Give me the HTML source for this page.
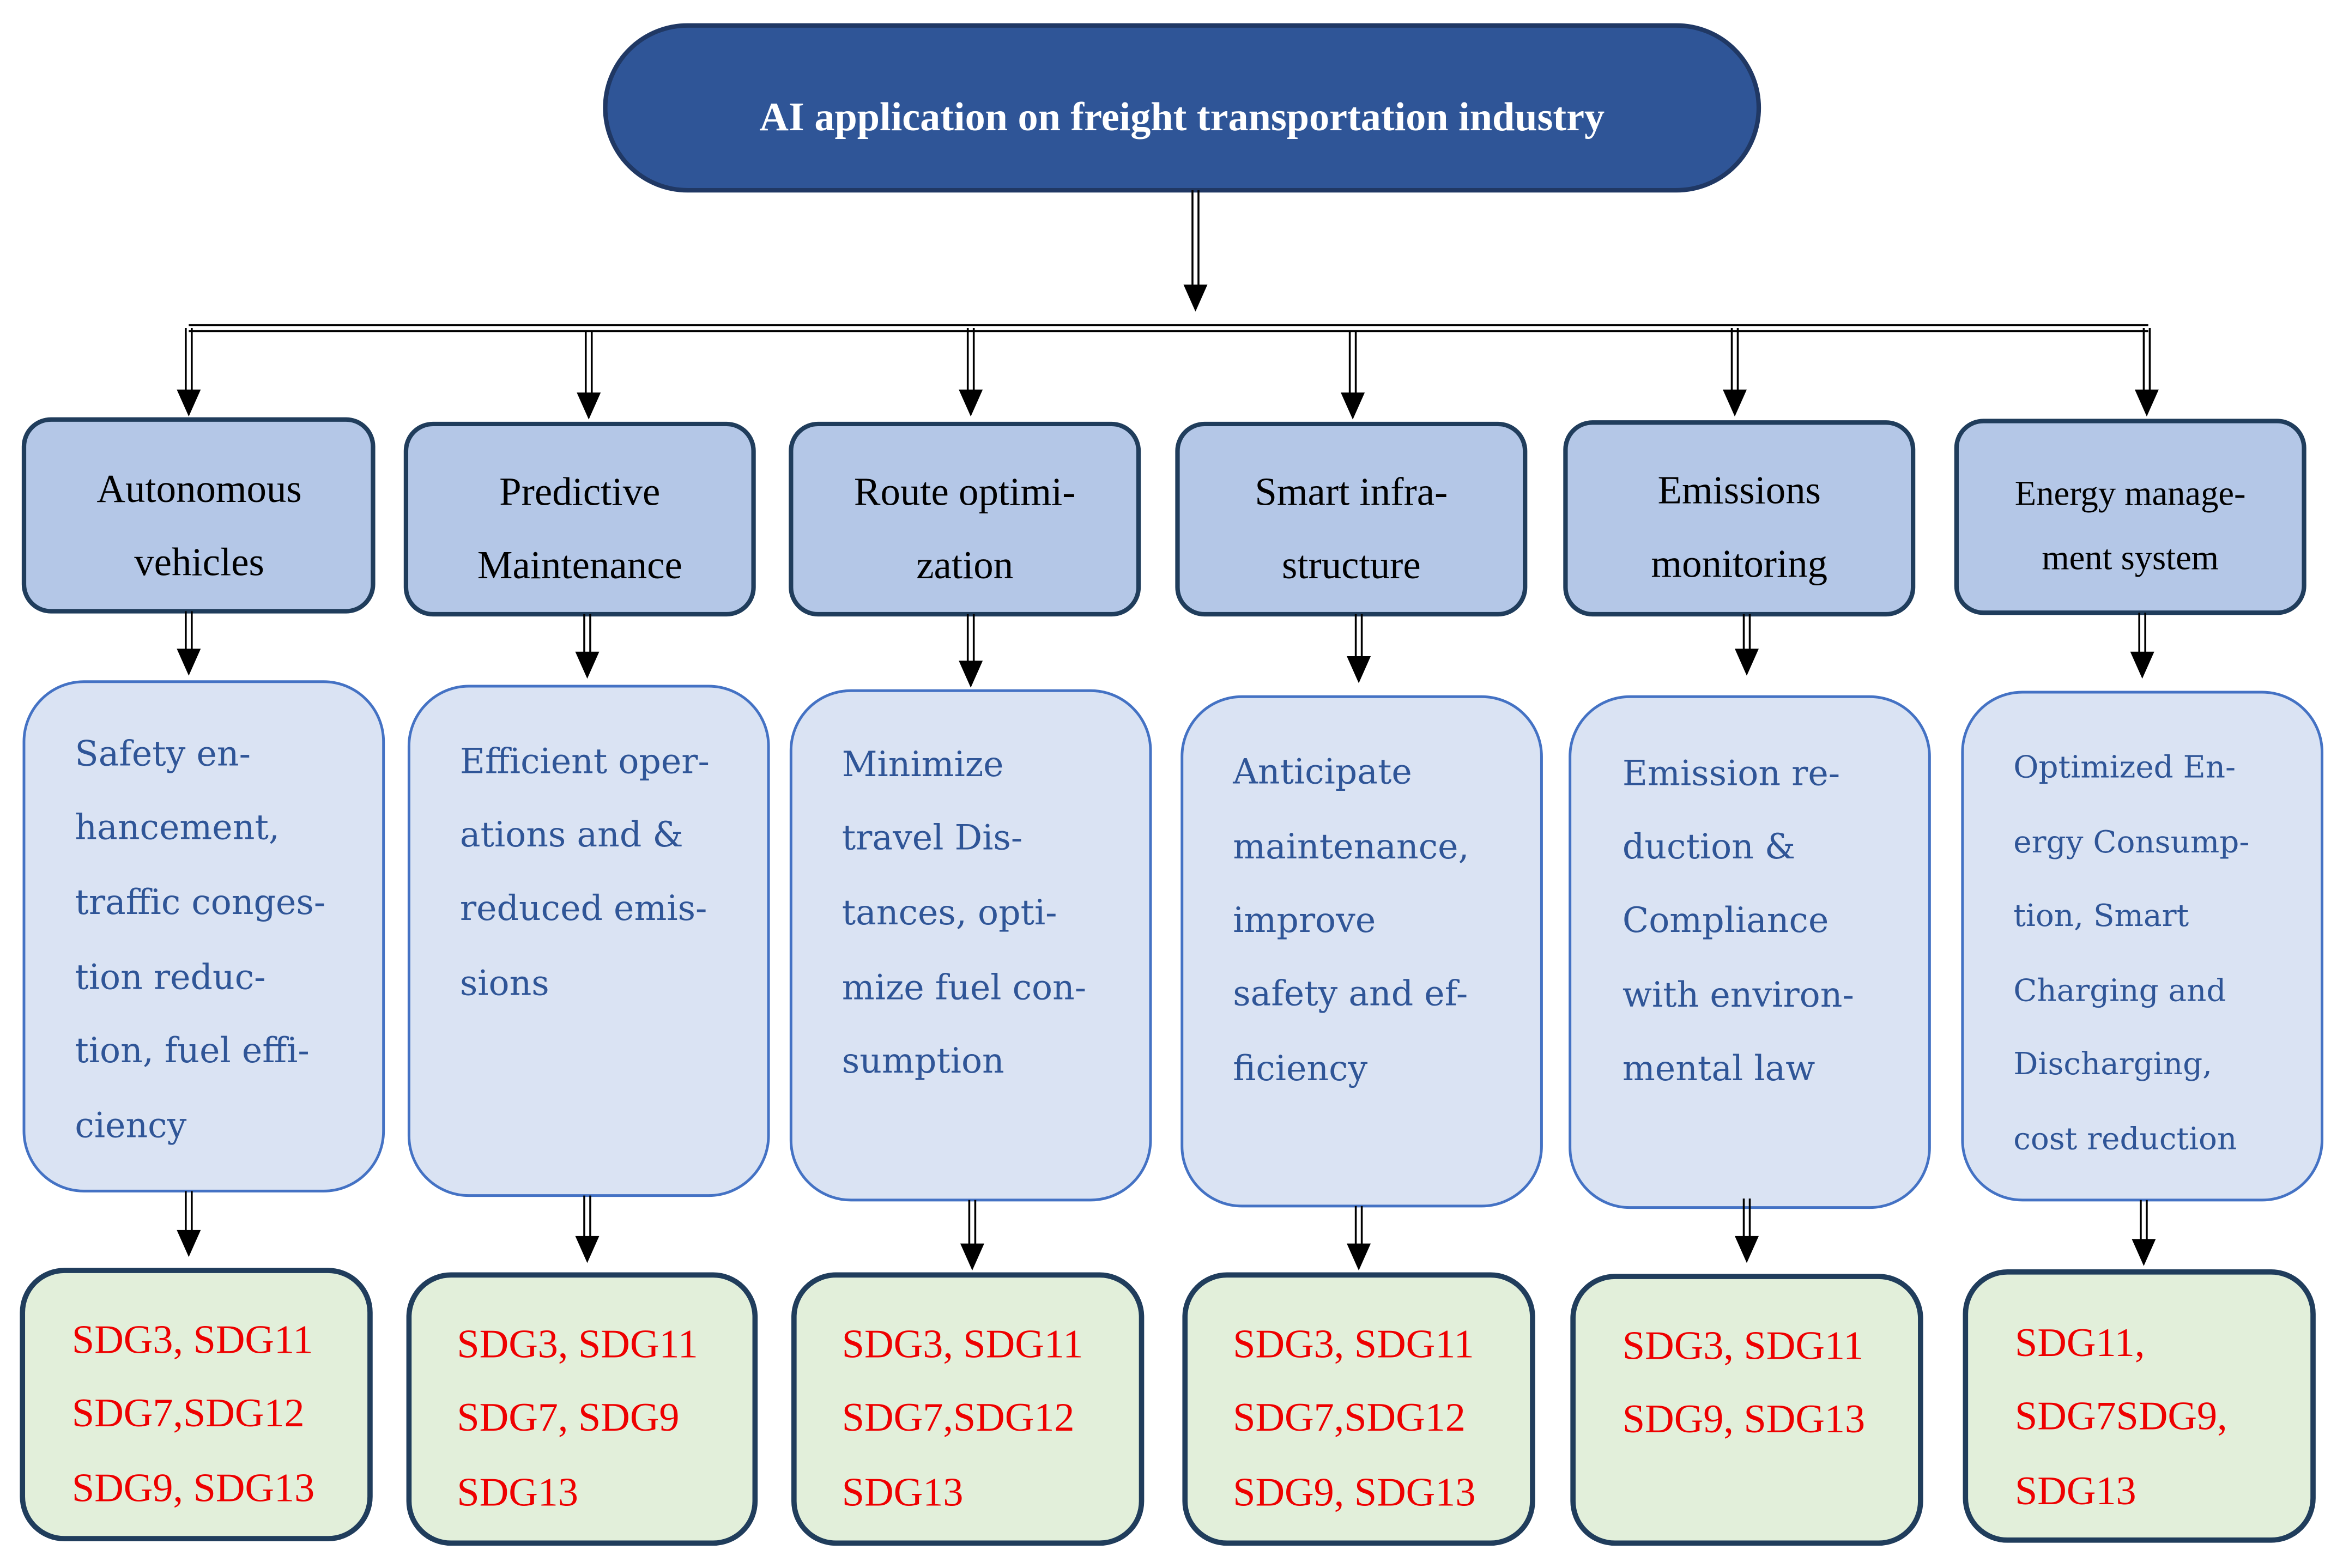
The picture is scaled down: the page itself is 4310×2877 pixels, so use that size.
<!DOCTYPE html>
<html><head><meta charset="utf-8"><style>html,body{margin:0;padding:0;background:#fff}svg{display:block}</style></head><body>
<svg width="4310" height="2877" viewBox="0 0 1568 1046.6" preserveAspectRatio="none" xmlns="http://www.w3.org/2000/svg">
<g font-family="'Liberation Serif', serif">
<rect x="404" y="17" width="770" height="110" rx="55" fill="#2f5597" stroke="#203864" stroke-width="3"/>
<text x="789" y="87" text-anchor="middle" fill="#fff" font-weight="bold" font-size="27">AI application on freight transportation industry</text>
<g stroke="#000" stroke-width="1.3" fill="none">
<line x1="796" y1="127" x2="796" y2="192"/><line x1="800" y1="127" x2="800" y2="192"/>
<line x1="126" y1="217" x2="1434" y2="217"/><line x1="126" y1="221" x2="1434" y2="221"/>
</g>
<polygon points="790,190 806,190 798,208" fill="#000"/>
<g stroke="#000" stroke-width="1.3">
<line x1="124" y1="219" x2="124" y2="262"/><line x1="128" y1="219" x2="128" y2="262"/>
<line x1="391" y1="221" x2="391" y2="264"/><line x1="395" y1="221" x2="395" y2="264"/>
<line x1="646" y1="219" x2="646" y2="262"/><line x1="650" y1="219" x2="650" y2="262"/>
<line x1="901" y1="221" x2="901" y2="264"/><line x1="905" y1="221" x2="905" y2="264"/>
<line x1="1156" y1="219" x2="1156" y2="262"/><line x1="1160" y1="219" x2="1160" y2="262"/>
<line x1="1431" y1="219" x2="1431" y2="262"/><line x1="1435" y1="219" x2="1435" y2="262"/>
</g>
<g fill="#000">
<polygon points="118,260 134,260 126,278"/>
<polygon points="385,262 401,262 393,280"/>
<polygon points="640,260 656,260 648,278"/>
<polygon points="895,262 911,262 903,280"/>
<polygon points="1150,260 1166,260 1158,278"/>
<polygon points="1425,260 1441,260 1433,278"/>
</g>
<g fill="#b4c7e7" stroke="#203d5c" stroke-width="3">
<rect x="16" y="280" width="233" height="128" rx="18"/>
<rect x="271" y="283" width="232" height="127" rx="18"/>
<rect x="528" y="283" width="232" height="127" rx="18"/>
<rect x="786" y="283" width="232" height="127" rx="18"/>
<rect x="1045" y="282" width="232" height="128" rx="18"/>
<rect x="1306" y="281" width="232" height="128" rx="18"/>
</g>
<g fill="#000" font-size="26.5" text-anchor="middle">
<text x="133" y="335">Autonomous</text><text x="133" y="384">vehicles</text>
<text x="387" y="337">Predictive</text><text x="387" y="386">Maintenance</text>
<text x="644" y="337">Route optimi-</text><text x="644" y="386">zation</text>
<text x="902" y="337">Smart infra-</text><text x="902" y="386">structure</text>
<text x="1161" y="336">Emissions</text><text x="1161" y="385">monitoring</text>
<text x="1422" y="337" font-size="23.5">Energy manage-</text><text x="1422" y="380" font-size="23.5">ment system</text>
</g>
<g stroke="#000" stroke-width="1.3">
<line x1="124" y1="408" x2="124" y2="436"/><line x1="128" y1="408" x2="128" y2="436"/>
<line x1="390" y1="410" x2="390" y2="438"/><line x1="394" y1="410" x2="394" y2="438"/>
<line x1="646" y1="410" x2="646" y2="444"/><line x1="650" y1="410" x2="650" y2="444"/>
<line x1="905" y1="410" x2="905" y2="441"/><line x1="909" y1="410" x2="909" y2="441"/>
<line x1="1164" y1="410" x2="1164" y2="436"/><line x1="1168" y1="410" x2="1168" y2="436"/>
<line x1="1428" y1="409" x2="1428" y2="438"/><line x1="1432" y1="409" x2="1432" y2="438"/>
</g>
<g fill="#000">
<polygon points="118,433 134,433 126,451"/>
<polygon points="384,435 400,435 392,453"/>
<polygon points="640,441 656,441 648,459"/>
<polygon points="899,438 915,438 907,456"/>
<polygon points="1158,433 1174,433 1166,451"/>
<polygon points="1422,435 1438,435 1430,453"/>
</g>
<g fill="#dae3f3" stroke="#4472c4" stroke-width="1.8">
<rect x="16" y="455" width="240" height="340" rx="40"/>
<rect x="273" y="458" width="240" height="340" rx="40"/>
<rect x="528" y="461" width="240" height="340" rx="40"/>
<rect x="789" y="465" width="240" height="340" rx="40"/>
<rect x="1048" y="465" width="240" height="341" rx="40"/>
<rect x="1310" y="462" width="240" height="339" rx="40"/>
</g>
<g fill="#2f5597" font-family="'DejaVu Serif','Liberation Serif',serif" style="font-size:23px">
<text x="50" y="511">Safety en-</text><text x="50" y="560">hancement,</text><text x="50" y="610">traffic conges-</text><text x="50" y="660">tion reduc-</text><text x="50" y="709">tion, fuel effi-</text><text x="50" y="759">ciency</text>
<text x="307" y="516">Efficient oper-</text><text x="307" y="565">ations and &amp;</text><text x="307" y="614">reduced emis-</text><text x="307" y="664">sions</text>
<text x="562" y="518">Minimize</text><text x="562" y="567">travel Dis-</text><text x="562" y="617">tances, opti-</text><text x="562" y="667">mize fuel con-</text><text x="562" y="716">sumption</text>
<text x="823" y="523">Anticipate</text><text x="823" y="573">maintenance,</text><text x="823" y="622">improve</text><text x="823" y="671">safety and ef-</text><text x="823" y="721">ficiency</text>
<text x="1083" y="524">Emission re-</text><text x="1083" y="573">duction &amp;</text><text x="1083" y="622">Compliance</text><text x="1083" y="672">with environ-</text><text x="1083" y="721">mental law</text>
<g style="font-size:20.5px">
<text x="1344" y="519">Optimized En-</text><text x="1344" y="569">ergy Consump-</text><text x="1344" y="618">tion, Smart</text><text x="1344" y="668">Charging and</text><text x="1344" y="717">Discharging,</text><text x="1344" y="767">cost reduction</text>
</g>
</g>
<g stroke="#000" stroke-width="1.3">
<line x1="124" y1="795" x2="124" y2="823"/><line x1="128" y1="795" x2="128" y2="823"/>
<line x1="390" y1="798" x2="390" y2="828"/><line x1="394" y1="798" x2="394" y2="828"/>
<line x1="647" y1="801" x2="647" y2="833"/><line x1="651" y1="801" x2="651" y2="833"/>
<line x1="905" y1="805" x2="905" y2="833"/><line x1="909" y1="805" x2="909" y2="833"/>
<line x1="1164" y1="800" x2="1164" y2="828"/><line x1="1168" y1="800" x2="1168" y2="828"/>
<line x1="1429" y1="801" x2="1429" y2="830"/><line x1="1433" y1="801" x2="1433" y2="830"/>
</g>
<g fill="#000">
<polygon points="118,821 134,821 126,839"/>
<polygon points="384,825 400,825 392,843"/>
<polygon points="641,830 657,830 649,848"/>
<polygon points="899,830 915,830 907,848"/>
<polygon points="1158,825 1174,825 1166,843"/>
<polygon points="1423,827 1439,827 1431,845"/>
</g>
<g fill="#e2efda" stroke="#203d5c" stroke-width="3.5">
<rect x="15" y="848" width="232" height="179" rx="28"/>
<rect x="273" y="851" width="231" height="179" rx="28"/>
<rect x="530" y="851" width="232" height="179" rx="28"/>
<rect x="791" y="851" width="232" height="179" rx="28"/>
<rect x="1050" y="852" width="232" height="178" rx="28"/>
<rect x="1312" y="849" width="232" height="179" rx="28"/>
</g>
<g fill="#ee0000" font-size="27">
<text x="48" y="903">SDG3, SDG11</text><text x="48" y="952">SDG7,SDG12</text><text x="48" y="1002">SDG9, SDG13</text>
<text x="305" y="906">SDG3, SDG11</text><text x="305" y="955">SDG7, SDG9</text><text x="305" y="1005">SDG13</text>
<text x="562" y="906">SDG3, SDG11</text><text x="562" y="955">SDG7,SDG12</text><text x="562" y="1005">SDG13</text>
<text x="823" y="906">SDG3, SDG11</text><text x="823" y="955">SDG7,SDG12</text><text x="823" y="1005">SDG9, SDG13</text>
<text x="1083" y="907">SDG3, SDG11</text><text x="1083" y="956">SDG9, SDG13</text>
<text x="1345" y="905">SDG11,</text><text x="1345" y="954">SDG7SDG9,</text><text x="1345" y="1004">SDG13</text>
</g>
</g>
</svg>
</body></html>
